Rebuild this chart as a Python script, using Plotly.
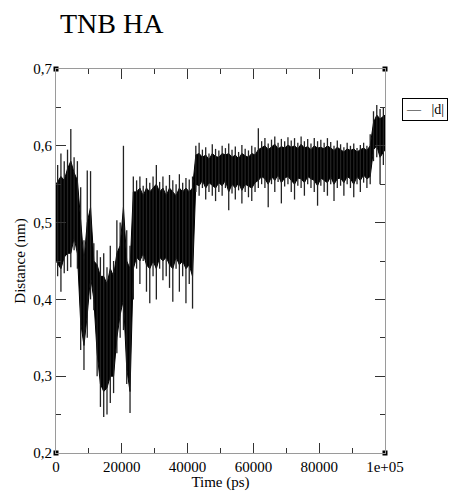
import plotly.graph_objects as go

# ---- data, per 1000 ps bin ----
bin_start_ps = [i * 1000 for i in range(100)]
# extremes reached by the spikes
dist_hi = [
    0.575, 0.590, 0.580, 0.595, 0.622, 0.585, 0.580, 0.546, 0.477, 0.568,
    0.567, 0.473, 0.464, 0.455, 0.460, 0.442, 0.470, 0.450, 0.503, 0.500,
    0.600, 0.490, 0.470, 0.560, 0.555, 0.560, 0.548, 0.558, 0.552, 0.560,
    0.575, 0.553, 0.560, 0.548, 0.562, 0.555, 0.550, 0.563, 0.552, 0.558,
    0.556, 0.560, 0.600, 0.604, 0.595, 0.598, 0.590, 0.602, 0.596, 0.594,
    0.600, 0.597, 0.603, 0.595, 0.599, 0.592, 0.601, 0.596, 0.594, 0.600,
    0.598, 0.623, 0.606, 0.610, 0.603, 0.608, 0.612, 0.604, 0.609, 0.606,
    0.611, 0.607, 0.610, 0.604, 0.612, 0.606, 0.609, 0.603, 0.610, 0.606,
    0.608, 0.604, 0.610, 0.605, 0.600, 0.607, 0.602, 0.598, 0.604, 0.600,
    0.603, 0.597, 0.601, 0.604, 0.600, 0.615, 0.645, 0.653, 0.648, 0.650,
]
dist_lo = [
    0.430, 0.410, 0.434, 0.437, 0.442, 0.464, 0.440, 0.334, 0.308, 0.350,
    0.400, 0.386, 0.300, 0.260, 0.247, 0.250, 0.265, 0.278, 0.330, 0.350,
    0.360, 0.290, 0.252, 0.400, 0.440, 0.420, 0.450, 0.410, 0.395, 0.430,
    0.400, 0.440, 0.425, 0.430, 0.415, 0.397, 0.440, 0.410, 0.430, 0.395,
    0.420, 0.388, 0.540, 0.535, 0.545, 0.530, 0.540, 0.535, 0.528, 0.540,
    0.535, 0.545, 0.516, 0.538, 0.530, 0.542, 0.525, 0.540, 0.533, 0.528,
    0.540, 0.545, 0.550, 0.545, 0.520, 0.550, 0.540, 0.553, 0.525, 0.547,
    0.550, 0.540, 0.530, 0.548, 0.545, 0.535, 0.550, 0.545, 0.540, 0.522,
    0.548, 0.540, 0.535, 0.550, 0.528, 0.545, 0.548, 0.535, 0.550, 0.545,
    0.533, 0.550, 0.540, 0.552, 0.545, 0.550, 0.580, 0.585, 0.550, 0.575,
]
# edges of the dense (solid black) core
core_hi = [
    0.550, 0.560, 0.555, 0.570, 0.580, 0.565, 0.555, 0.500, 0.450, 0.500,
    0.520, 0.450, 0.445, 0.430, 0.430, 0.420, 0.440, 0.430, 0.460, 0.470,
    0.520, 0.450, 0.440, 0.540, 0.540, 0.545, 0.535, 0.545, 0.540, 0.545,
    0.550, 0.540, 0.545, 0.535, 0.545, 0.540, 0.535, 0.545, 0.540, 0.545,
    0.540, 0.545, 0.588, 0.590, 0.585, 0.588, 0.582, 0.590, 0.586, 0.585,
    0.590, 0.588, 0.590, 0.585, 0.588, 0.583, 0.590, 0.587, 0.585, 0.590,
    0.588, 0.595, 0.597, 0.600, 0.595, 0.598, 0.602, 0.596, 0.599, 0.597,
    0.601, 0.598, 0.600, 0.596, 0.602, 0.597, 0.599, 0.595, 0.600, 0.597,
    0.598, 0.596, 0.600, 0.597, 0.594, 0.598, 0.595, 0.592, 0.596, 0.594,
    0.596, 0.592, 0.595, 0.597, 0.594, 0.600, 0.630, 0.640, 0.635, 0.640,
]
core_lo = [
    0.450, 0.440, 0.455, 0.460, 0.460, 0.480, 0.460, 0.370, 0.340, 0.380,
    0.430, 0.400, 0.330, 0.290, 0.280, 0.285, 0.300, 0.300, 0.350, 0.380,
    0.400, 0.310, 0.280, 0.440, 0.455, 0.450, 0.460, 0.445, 0.440, 0.450,
    0.440, 0.455, 0.450, 0.455, 0.445, 0.440, 0.455, 0.445, 0.450, 0.440,
    0.445, 0.430, 0.550, 0.548, 0.555, 0.545, 0.552, 0.548, 0.545, 0.552,
    0.548, 0.555, 0.540, 0.550, 0.545, 0.552, 0.542, 0.550, 0.547, 0.545,
    0.552, 0.555, 0.560, 0.557, 0.550, 0.560, 0.555, 0.562, 0.552, 0.558,
    0.560, 0.555, 0.550, 0.558, 0.557, 0.552, 0.560, 0.557, 0.555, 0.548,
    0.558, 0.555, 0.552, 0.560, 0.550, 0.557, 0.558, 0.552, 0.560, 0.557,
    0.550, 0.560, 0.555, 0.562, 0.557, 0.560, 0.595, 0.600, 0.585, 0.595,
]
bin_width_ps = 1000

x_tickvals = [0, 20000, 40000, 60000, 80000, 100000]
x_ticktext = ["0", "20000", "40000", "60000", "80000", "1e+05"]
x_minor = [10000, 30000, 50000, 70000, 90000]
y_tickvals = [0.2, 0.3, 0.4, 0.5, 0.6, 0.7]
y_ticktext = ["0,2", "0,3", "0,4", "0,5", "0,6", "0,7"]
y_minor = [0.25, 0.35, 0.45, 0.55, 0.65]
x_range = [0, 100000]
y_range = [0.2, 0.7]
legend_label = "|d|"

# core polygon
x_c = [t + bin_width_ps / 2 for t in bin_start_ps]
x_c[0] = bin_start_ps[0]
x_c[-1] = bin_start_ps[-1] + bin_width_ps
poly_x = x_c + x_c[::-1] + [x_c[0]]
poly_y = core_hi + core_lo[::-1] + [core_hi[0]]

# spikes: vertical strokes from the lower to the upper extreme in each bin
sx, sy = [], []
for t, hi, lo in zip(bin_start_ps, dist_hi, dist_lo):
    xm = t + bin_width_ps / 2
    sx += [xm, xm, None]
    sy += [lo, hi, None]

FONT = "Liberation Serif"
fig = go.Figure()
fig.add_trace(go.Scatter(x=poly_x, y=poly_y, mode="lines", fill="toself",
                         fillcolor="black",
                         line=dict(color="black", width=1), showlegend=False,
                         hoverinfo="skip"))
fig.add_trace(go.Scatter(x=sx, y=sy, mode="lines",
                         line=dict(color="#222222", width=1.3), showlegend=False,
                         hoverinfo="skip"))
# corner squares (xmgrace style)
fig.add_trace(go.Scatter(
    x=[x_range[0], x_range[1], x_range[0], x_range[1]],
    y=[y_range[0], y_range[0], y_range[1], y_range[1]],
    mode="markers", marker=dict(symbol="square", size=5, color="black"),
    cliponaxis=False, showlegend=False, hoverinfo="skip"))

axis_common = dict(
    showgrid=False, zeroline=False, showline=True, linecolor="#9a9a9a",
    linewidth=1, mirror="allticks", ticks="inside", ticklen=10,
    tickcolor="#333333", tickwidth=1, automargin=False,
    tickfont=dict(family=FONT, size=15, color="black"),
    title_font=dict(family=FONT, size=15, color="black"),
)
fig.update_xaxes(range=x_range, tickmode="array", tickvals=x_tickvals,
                 ticktext=x_ticktext, title_text="Time (ps)", title_standoff=2,
                 minor=dict(tickmode="array", tickvals=x_minor, ticks="inside",
                            ticklen=5, tickcolor="#333333"),
                 **axis_common)
fig.update_yaxes(range=y_range, tickmode="array", tickvals=y_tickvals,
                 ticktext=y_ticktext, title_text="Distance (nm)", title_standoff=4,
                 minor=dict(tickmode="array", tickvals=y_minor, ticks="inside",
                            ticklen=5, tickcolor="#333333"),
                 **axis_common)

fig.add_annotation(xref="paper", yref="paper", x=1.051, y=0.9237,
                   xanchor="left", yanchor="top", showarrow=False,
                   text="—&nbsp;&nbsp;&nbsp;" + legend_label,
                   font=dict(family=FONT, size=14, color="#000000"),
                   bordercolor="black", borderwidth=1, borderpad=3,
                   bgcolor="white")

fig.update_layout(
    width=451, height=491,
    margin=dict(l=56, r=66, t=69, b=38),
    paper_bgcolor="white", plot_bgcolor="white",
    title=dict(text="TNB HA", xref="container", yref="container",
               x=0.133, xanchor="left", y=0.953, yanchor="middle",
               font=dict(family=FONT, size=28, color="black")),
    showlegend=False,
    hovermode=False,
)
fig.write_html("out.html",
               config={"displayModeBar": False, "staticPlot": True},
               post_script="document.body.style.margin='0';"
                           "document.body.style.overflow='hidden';")
